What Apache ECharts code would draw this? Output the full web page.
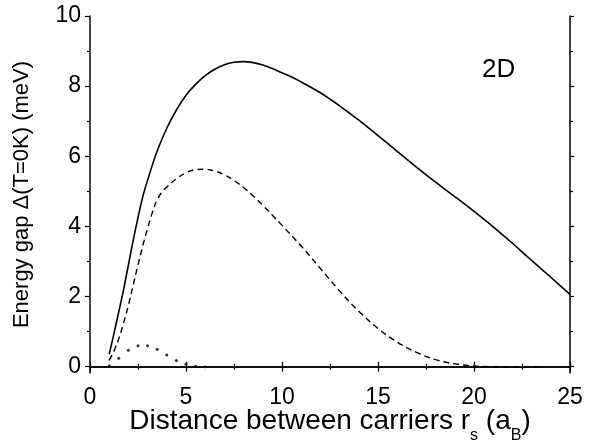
<!DOCTYPE html>
<html>
<head>
<meta charset="utf-8">
<script src="https://cdn.jsdelivr.net/npm/echarts@6/dist/echarts.min.js"></script>
<style>
  html, body { margin: 0; padding: 0; background: #fff; }
  #chart { width: 594px; height: 440px; }
</style>
</head>
<body>
<div id="chart"></div>
<script>
// gap vs carrier distance
const solidX = [1, 1.25, 1.5, 1.75, 2, 2.25, 2.5, 2.75, 3, 3.5, 4, 4.5, 5, 5.5, 6, 6.5, 7, 7.5, 8, 8.5, 9, 9.5, 10, 10.5, 11, 11.5, 12, 12.5, 13, 14, 15, 16, 17, 18, 19, 20, 21, 22, 23, 24, 25];
const solidY = [0.36, 0.95, 1.57, 2.2, 2.9, 3.6, 4.25, 4.85, 5.32, 6.15, 6.8, 7.32, 7.74, 8.05, 8.3, 8.48, 8.61, 8.68, 8.7, 8.67, 8.6, 8.5, 8.38, 8.26, 8.12, 7.97, 7.81, 7.63, 7.44, 7.03, 6.59, 6.14, 5.69, 5.26, 4.85, 4.43, 3.99, 3.52, 3.03, 2.55, 2.06];

const dashX = [1, 1.25, 1.5, 1.75, 2, 2.25, 2.5, 2.75, 3, 3.25, 3.5, 3.75, 4, 4.5, 5, 5.5, 6, 6.5, 7, 7.5, 8, 8.5, 9, 9.5, 10, 11, 12, 13, 14, 15, 16, 17, 18, 19, 20, 21, 22, 23.3];
const dashY = [0.18, 0.45, 0.8, 1.25, 1.75, 2.33, 2.9, 3.45, 3.95, 4.4, 4.76, 4.98, 5.12, 5.36, 5.53, 5.62, 5.63, 5.58, 5.47, 5.31, 5.11, 4.87, 4.6, 4.32, 4.03, 3.44, 2.8, 2.16, 1.58, 1.09, 0.7, 0.41, 0.2, 0.08, 0.02, 0, 0, 0];

const dotX = [1, 1.5, 2, 2.5, 3, 3.5, 4, 4.5, 5, 5.5, 6];
const dotY = [0.03, 0.24, 0.47, 0.6, 0.6, 0.5, 0.33, 0.18, 0.07, 0.01, 0];

const yMajorTicks = [0, 2, 4, 6, 8, 10];
const yMinorTicks = [1, 3, 5, 7, 9];

const pair = (xs, ys) => xs.map((x, i) => [x, ys[i]]);

const font = "'Liberation Sans', Arial, sans-serif";
const ink = "#000";
const axisLine = { show: true, lineStyle: { color: ink, width: 1.5 } };

const chart = echarts.init(document.getElementById("chart"), null, { renderer: "canvas" });

const xBase = {
  type: "value",
  min: 0,
  max: 25,
  interval: 5,
  axisLine: axisLine,
  axisTick: { show: true, length: 5, lineStyle: { color: ink, width: 1.2 } },
  minorTick: { show: true, splitNumber: 2, length: 3, lineStyle: { color: ink, width: 1.2 } },
  splitLine: { show: false }
};

const yBase = {
  type: "value",
  min: -0.18,
  max: 10,
  splitLine: { show: false },
  axisLine: axisLine
};

chart.setOption({
  animation: false,
  backgroundColor: "#fff",
  textStyle: { fontFamily: font },
  grid: { left: 90, right: 24, top: 16, bottom: 67, outerBoundsMode: "none", containLabel: false },
  xAxis: [
    {
      ...xBase,
      position: "bottom",
      name: "{a|Distance between carriers r}{s|s}{a| (a}{s|B}{a|)}",
      nameLocation: "middle",
      nameGap: 34,
      nameMoveOverlap: false,
      nameTextStyle: {
        rich: {
          a: { fontSize: 28, color: ink, fontFamily: font, padding: [0, 0, 9, 0], verticalAlign: "bottom" },
          s: { fontSize: 16, color: ink, fontFamily: font, verticalAlign: "bottom" }
        }
      },
      axisLabel: { fontSize: 23, color: ink, margin: 13, fontFamily: font }
    },
    {
      ...xBase,
      position: "top",
      axisLabel: { show: false }
    }
  ],
  yAxis: [
    {
      ...yBase,
      position: "left",
      name: "Energy gap \u0394(T=0K) (meV)",
      nameLocation: "middle",
      nameRotate: 90,
      nameGap: 57,
      nameTextStyle: { fontSize: 22, color: ink, fontFamily: font },
      axisTick: { show: true, length: 5, customValues: yMajorTicks, lineStyle: { color: ink, width: 1.2 } },
      axisLabel: { fontSize: 23, color: ink, margin: 9, fontFamily: font, customValues: yMajorTicks }
    },
    {
      ...yBase,
      position: "left",
      axisLine: { show: false },
      axisTick: { show: true, length: 3, customValues: yMinorTicks, lineStyle: { color: ink, width: 1.2 } },
      axisLabel: { show: false }
    },
    {
      ...yBase,
      position: "right",
      axisTick: { show: true, length: 4, customValues: yMajorTicks, lineStyle: { color: ink, width: 1.2 } },
      axisLabel: { show: false }
    },
    {
      ...yBase,
      position: "right",
      axisLine: { show: false },
      axisTick: { show: true, length: 3, customValues: yMinorTicks, lineStyle: { color: ink, width: 1.2 } },
      axisLabel: { show: false }
    }
  ],
  graphic: [
    {
      type: "text",
      left: 482,
      top: 57,
      style: { text: "2D", fontSize: 26, fill: ink, fontFamily: font }
    }
  ],
  series: [
    {
      name: "solid",
      type: "line",
      data: pair(solidX, solidY),
      showSymbol: false,
      smooth: 0.4,
      lineStyle: { color: ink, width: 1.6 }
    },
    {
      name: "dashed",
      type: "line",
      data: pair(dashX, dashY),
      showSymbol: false,
      smooth: 0.4,
      lineStyle: { color: ink, width: 1.4, type: [6, 4] }
    },
    {
      name: "dotted",
      type: "scatter",
      data: pair(dotX, dotY),
      symbol: "circle",
      symbolSize: 3,
      itemStyle: { color: ink }
    }
  ]
});
</script>
</body>
</html>
